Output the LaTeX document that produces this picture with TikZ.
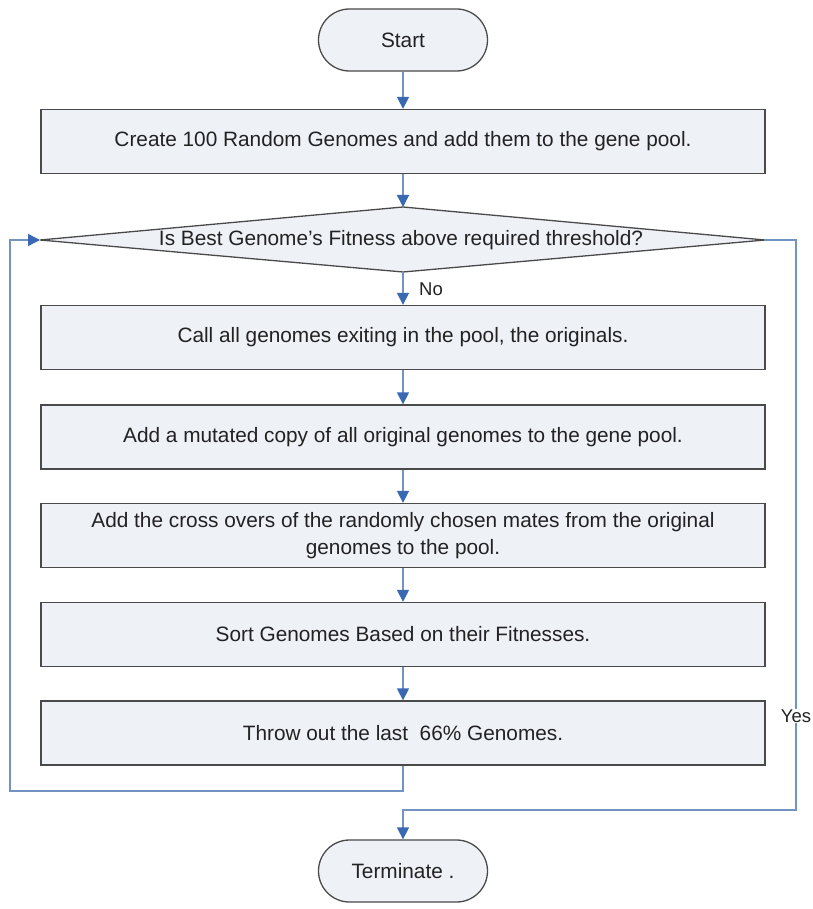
\documentclass[tikz,border=0pt]{standalone}
\usepackage{fontspec}
\setmainfont{Liberation Sans}
\usetikzlibrary{arrows.meta}
\definecolor{boxfill}{HTML}{EEF1F6}
\definecolor{boxline}{HTML}{4A4A4A}
\definecolor{conline}{HTML}{7393C4}
\definecolor{arrowblue}{HTML}{3A69B2}
\definecolor{txt}{HTML}{222222}
\tikzset{
  procbox/.style={draw=boxline, fill=boxfill, line width=1.3pt, minimum width=724pt, minimum height=64pt, text=txt, font=\fontsize{20.8}{27}\selectfont, align=center, inner sep=0pt},
  termbox/.style={draw=boxline, fill=boxfill, line width=1.3pt, minimum width=169pt, minimum height=62pt, rounded corners=31pt, text=txt, font=\fontsize{20.8}{25}\selectfont, inner sep=0pt},
  conn/.style={draw=conline, line width=1.4pt},
  arr/.style={conn, -{Triangle[length=12pt,width=12pt,color=arrowblue]}},
  lbl/.style={text=txt, font=\fontsize{18.5}{22}\selectfont, inner sep=1pt}
}
\begin{document}
\begin{tikzpicture}[x=1pt,y=-1pt]
\useasboundingbox (0,0) rectangle (812,909);
\node[termbox] (start) at (403,40) {Start};
\node[procbox] (create) at (403,141.5) {Create 100 Random Genomes and add them to the gene pool.};
% decision diamond
\coordinate (dl) at (40,240);
\coordinate (dr) at (765,240);
\coordinate (dt) at (403,207);
\coordinate (db) at (403,272);
\draw[draw=boxline, fill=boxfill, line width=1.3pt] (dl) -- (dt) -- (dr) -- (db) -- cycle;
\node[text=txt, font=\fontsize{20.8}{25}\selectfont] (dtext) at (401,240) {Is Best Genome’s Fitness above required threshold?};
\node[procbox] (call) at (403,337.5) {Call all genomes exiting in the pool, the originals.};
\node[procbox] (mut) at (403,437) {Add a mutated copy of all original genomes to the gene pool.};
\node[procbox] (cross) at (403,535.5) {Add the cross overs of the randomly chosen mates from the original\\genomes to the pool.};
\node[procbox] (sort) at (403,634.5) {Sort Genomes Based on their Fitnesses.};
\node[procbox] (throw) at (403,733) {Throw out the last\ \ 66\% Genomes.};
\node[termbox] (term) at (403,871) {Terminate .};
% connectors
\draw[arr] (start) -- (create);
\draw[arr] (create) -- (dt);
\draw[arr] (db) -- (call);
\draw[arr] (call) -- (mut);
\draw[arr] (mut) -- (cross);
\draw[arr] (cross) -- (sort);
\draw[arr] (sort) -- (throw);
\coordinate (l1) at (403,791);
\coordinate (l2) at (10,791);
\coordinate (l3) at (10,240);
\draw[arr] (throw.south) -- (l1) -- (l2) -- (l3) -- (dl);
\coordinate (r1) at (796,240);
\coordinate (r2) at (796,810);
\coordinate (r3) at (403,810);
\draw[arr] (dr) -- (r1) -- (r2) -- (r3) -- (term);
\node[lbl, fill=white] (yes) at (796,716) {Yes};
\node[lbl] (no) at (431,289) {No};
\end{tikzpicture}
\end{document}
